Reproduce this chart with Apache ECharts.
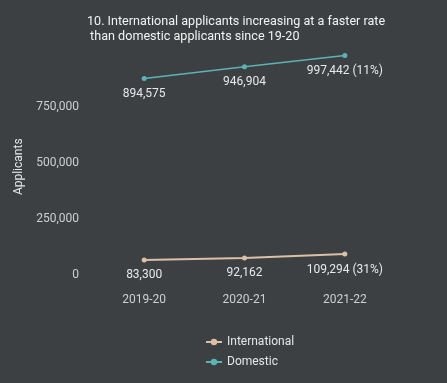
<!DOCTYPE html>
<html>
<head>
<meta charset="utf-8">
<script src="https://cdn.jsdelivr.net/npm/echarts@6/dist/echarts.min.js"></script>
<style>
html,body{margin:0;padding:0;background:#3c4043;}
#chart{width:447px;height:383px;}
</style>
</head>
<body>
<div id="chart"></div>
<script>
const categories = ['2019-20', '2020-21', '2021-22'];
const international = [83300, 92162, 109294];
const domestic = [894575, 946904, 997442];
const internationalLabels = ['83,300', '92,162', '109,294 (31%)'];
const domesticLabels = ['894,575', '946,904', '997,442 (11%)'];
const yTicks = [0, 250000, 500000, 750000];

const chart = echarts.init(document.getElementById('chart'));
const fmt = v => v.toLocaleString('en-US');
chart.setOption({
  backgroundColor: '#3c4043',
  animation: false,
  textStyle: { fontFamily: 'Roboto' },
  title: {
    text: '10. International applicants increasing at a faster rate\n than domestic applicants since 19-20',
    left: 82, top: 9,
    textStyle: { color: '#f2f2f2', fontSize: 12.6, fontWeight: 'normal', lineHeight: 15, fontFamily: 'Roboto' }
  },
  legend: {
    orient: 'vertical',
    left: 200, top: 331,
    itemWidth: 16, itemHeight: 8, itemGap: 8,
    textStyle: { color: '#e6e6e6', fontSize: 12 },
    data: ['International', 'Domestic']
  },
  grid: { left: 94, right: 52, top: 55, bottom: 104.5 },
  xAxis: {
    type: 'category',
    data: categories,
    boundaryGap: true,
    axisLine: { show: false },
    axisTick: { show: false },
    axisLabel: { color: '#cfcfcf', fontSize: 12, margin: 15 }
  },
  yAxis: {
    type: 'value',
    min: 0, max: 1000000, interval: 250000,
    name: 'Applicants',
    nameLocation: 'middle',
    nameGap: 66,
    nameTextStyle: { color: '#e6e6e6', fontSize: 12 },
    splitLine: { show: false },
    axisLine: { show: false },
    axisTick: { show: false },
    axisLabel: {
      color: '#cfcfcf', fontSize: 12, margin: 15,
      verticalAlign: 'bottom', lineHeight: 8,
      formatter: v => yTicks.includes(v) ? fmt(v) : ''
    }
  },
  series: [
    {
      name: 'International', type: 'line', data: international,
      color: '#dcc0a6',
      symbol: 'circle', symbolSize: 5,
      lineStyle: { width: 2 },
      label: {
        show: true, position: 'bottom', distance: 7,
        color: '#e8e8e8', fontSize: 12,
        formatter: p => internationalLabels[p.dataIndex]
      }
    },
    {
      name: 'Domestic', type: 'line', data: domestic,
      color: '#5cb3b5',
      symbol: 'circle', symbolSize: 5,
      lineStyle: { width: 1.5 },
      label: {
        show: true, position: 'bottom', distance: 7,
        color: '#e8e8e8', fontSize: 12,
        formatter: p => domesticLabels[p.dataIndex]
      }
    }
  ]
});
</script>
</body>
</html>
